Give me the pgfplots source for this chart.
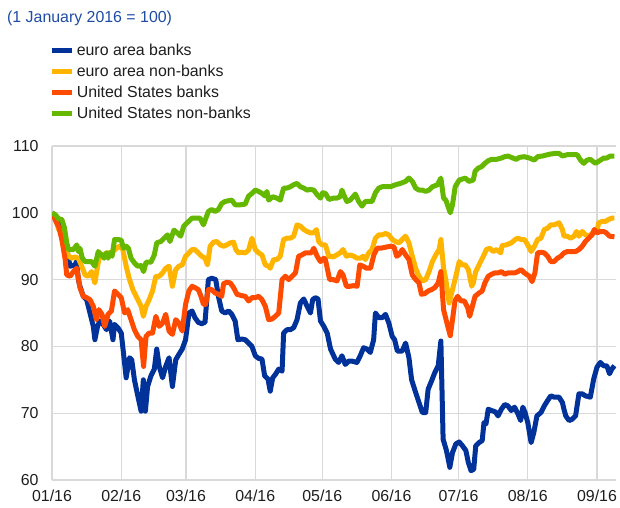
\documentclass[border=0pt]{standalone}
\usepackage{pgfplots}
\pgfplotsset{compat=1.18}
\usepackage{fontspec}
\setmainfont{Liberation Sans}
\definecolor{ecbblue}{RGB}{0,50,153}
\definecolor{ecbyellow}{RGB}{255,180,0}
\definecolor{ecborange}{RGB}{255,75,0}
\definecolor{ecbgreen}{RGB}{101,184,0}
\definecolor{titleblue}{RGB}{30,75,165}
\definecolor{gridgray}{RGB}{217,217,217}
\definecolor{txt}{RGB}{30,30,30}
\newcommand{\chartfont}{\fontsize{15.9bp}{18bp}\selectfont}
\begin{document}
\begin{tikzpicture}
\useasboundingbox (-52bp,-28bp) rectangle (568bp,480bp);
\node[anchor=west, text=titleblue, font=\chartfont, inner sep=0pt] at (-45bp,462bp) {(1 January 2016 = 100)};
\begin{axis}[
  at={(0,0)}, anchor=south west,
  scale only axis, width=564bp, height=334bp,
  xmin=0, xmax=252.5, ymin=60, ymax=110,
  xtick={0,31,60,91,121,152,182,213,244},
  xticklabels={01/16,02/16,03/16,04/16,05/16,06/16,07/16,08/16,09/16},
  ytick={60,70,80,90,100,110},
  grid=major, grid style={gridgray, line width=1.2bp},
  axis line style={draw=none},
  major tick length=0pt,
  tick label style={font=\chartfont, text=txt},
  yticklabel style={xshift=-10bp},
  xticklabel style={yshift=-6bp},
  /pgf/number format/assume math mode=true,
  legend style={font=\chartfont, text=txt, draw=none, fill=none, row sep=4bp,
    at={(axis description cs:-0.01,1.318)}, anchor=north west},
  legend cell align=left,
  legend image code/.code={\path (0bp,0bp) -- (20bp,0bp);\draw[#1, line width=5.5bp] (0bp,0bp) -- (17bp,0bp);},
  every axis plot/.append style={line width=5bp, line join=round, no marks},
]
\addplot[ecbblue] coordinates {
(0,100)(3,99)(5.2,98)(6.6,94.5)(8.1,92)(10.3,92.2)(11,92.7)(11.8,90)(12.5,89)(14,87.5)(15.5,87)(17,85)(18.5,83)(19.2,81)(20.4,83)(21.4,83.8)(22.9,83.3)(24.4,82.5)(25.8,83.8)(27.3,81)(28,83.3)(29.5,82.8)(31,82)(32,79)(33.2,75.3)(34.7,78.3)(35.7,78)(36.9,75)(38.4,72.6)(39.9,70.3)(40.9,75)(41.8,70.3)(42.8,74)(44.3,75.6)(45.8,76.6)(46.9,79.6)(48,77)(49.5,75.3)(50.9,77)(52.4,78.3)(53.9,74)(55.4,78)(56.8,78.8)(58.3,79.6)(59.8,81)(61.3,85)(62.7,85.3)
(64.0,84.3)(65.5,83.6)(67.0,83.4)(68.5,83.6)(70.0,90)(71.5,90.2)(73.3,90)(74.5,87.5)(76.0,85.3)(77.5,85)(79.0,85.3)(80.5,84.8)(82.0,83.8)(83.2,81)(85.0,81.1)(86.5,81)(88.0,80.5)(89.5,80)(91.0,78.6)(92.5,78.2)(94.0,78.1)(95.2,75.6)(96.7,75.1)(97.7,73.3)(98.8,75.3)(100.0,75.8)(101.5,76.6)(103.0,76.3)(103.7,82)(105.2,82.5)(106.7,82.5)(108.2,82.8)(109.7,84)(111.2,86.5)(112.7,87.1)(114.2,86)(115.7,85)(116.7,87)(117.9,87.3)(119.1,87.1)(120.2,83.8)(121.7,83)(123.2,82)(124.7,79.6)
(126.8,78.1)(128.3,77.6)(129.8,78.6)(131.3,77.3)(132.8,77.8)(134.3,77.8)(136.5,77.6)(138.0,78.6)(139.5,79.8)(141.0,79.6)(142.5,79.1)(144.0,81)(144.8,85)(146.3,84.3)(147.8,84.3)(149.3,84.8)(150.8,83.5)(152.3,81.5)(153.4,81)(154.6,79.3)(156.8,79.3)(158.3,80.5)(159.8,78.3)(161.0,75)(162.8,73.1)(164.3,71.6)(165.8,70.1)(167.3,70.1)(168.4,73.6)(169.9,74.8)(171.4,76.1)(172.9,77.1)(174.1,80.8)(175.1,66.1)(176.6,64.4)(178.1,61.9)(179.3,64.1)(180.8,65.4)(182.3,65.7)(183.8,65.1)(185.3,64.4)(186.4,62.6)(187.6,61.4)(188.8,61.6)
(189.7,65.1)(191.2,65.6)(192.6,65.9)(193.4,68.6)(194.3,68.4)(195.3,70.6)(196.8,70.4)(198.5,70.2)(199.7,69.6)(201.2,70.6)(202.7,71.3)(204.1,71.1)(205.6,70.4)(207.1,70.9)(208.6,69.9)(209.8,68.9)(210.8,70.9)(211.8,70.1)(213.0,68.6)(214.5,65.6)(215.7,67.1)(217.1,69.6)(218.9,70.1)(220.4,71.1)(221.9,71.9)(223.3,72.6)(224.8,72.4)(227.0,72.4)(228.5,71.6)(229.2,70.6)(230.0,69.6)(231.5,68.9)(232.9,69.1)(234.4,69.6)(235.9,72.9)(237.4,72.9)(238.8,72.6)(241.0,72.4)(242.5,75.1)(244.0,76.9)(245.5,77.6)(247.0,77.1)(248.4,77.1)(249.6,75.9)(250.6,76.6)(251.8,77.1)
};
\addlegendentry{euro area banks}
\addplot[ecbyellow] coordinates {
(0,100)(1.5,99.2)(3.0,97.5)(4.4,97.2)(5.9,95)(7.4,93.5)(8.9,93.2)(10.3,93.4)(11.8,93.2)(13.3,92)(14.8,90.7)(16.2,90.5)(17.7,91.2)(19.2,89.5)(20.4,92)(21.4,93.7)(22.9,93.7)(24.4,94)(25.8,94)(27.3,94.2)(28.8,94.7)(30.3,95)(31.7,94.5)(33.2,92)(34.7,90)(36.2,88.5)(38.4,87)(39.9,86)(40.9,84.5)(42.1,86)(43.5,87)(45.0,88.3)(46.5,90.5)(48.0,90.5)(49.5,91)(50.9,91.7)(52.4,92)(53.9,89)(55.4,91.5)(56.8,92)(58.3,92.2)(59.8,93.5)(61.3,94)(62.7,94.5)
(64.0,94.5)(65.5,94)(67.0,93.5)(68.5,93.2)(69.6,92.2)(70.8,95)(72.3,95.6)(73.8,95.7)(75.3,95.2)(76.8,95)(78.3,95.2)(79.8,95.5)(81.3,95.6)(82.3,94.5)(83.5,94)(85.0,94.1)(86.5,94)(88.0,94.4)(89.5,96.2)(91.0,94.5)(92.5,94)(94.0,93.7)(95.5,92.2)(97.0,92)(97.7,91.7)(99.2,93)(100.7,93)(102.2,93.5)(103.7,96)(105.2,96.2)(106.7,96.2)(108.2,96.5)(109.7,98.2)(111.2,98)(112.7,97.5)(114.2,97.2)(115.7,97)(117.2,97)(118.4,97.5)(119.4,95.7)(120.9,95.2)(122.4,95.2)(123.9,93.5)
(126.0,93.4)(127.5,93.7)(129.0,94)(130.3,94.5)(131.8,93.5)(133.3,93.7)(135.1,93.5)(136.6,93.2)(138.1,93.2)(139.3,93.5)(140.3,93)(141.8,94)(143.3,94.5)(144.8,96.2)(146.3,96.7)(147.8,96.7)(149.3,96.9)(150.8,96.7)(152.3,96)(153.8,95.7)(155.3,95.5)(156.8,96)(158.3,96.5)(159.8,95.5)(161.3,93.5)(162.8,91.7)(164.3,90.5)(165.8,89.8)(167.3,90)(168.8,91.2)(170.3,92.7)(171.8,93.7)(173.3,94.5)(174.1,96)(175.3,91.7)(176.3,90)(177.8,86.5)(179.3,88.5)(180.8,90.5)(182.3,92.7)(183.8,92.2)
(185.0,92.2)(186.4,91.5)(187.9,89)(188.6,89.5)(189.7,91.2)(191.6,92.5)(193.1,93.5)(194.5,94.5)(196.0,94.7)(197.5,94.2)(199.0,94.5)(200.9,94)(201.5,95.1)(203.4,95.2)(205.6,95.5)(207.4,96)(208.6,96.2)(210.0,96)(211.5,96)(213.0,95.2)(214.5,94.2)(216.0,95)(217.4,96)(218.9,96.2)(220.4,97.5)(221.9,97.7)(223.3,98.2)(224.8,98.2)(227.0,98.5)(228.5,97.5)(229.2,96.5)(230.7,96.5)(232.2,96.2)(233.7,96.5)(234.8,97.2)(235.9,96.5)(237.4,97.2)(238.8,96.7)(240.3,96.5)(242.2,97)(244.0,97.2)(244.7,98.5)(246.2,98.7)(247.7,98.7)(249.2,99)(250.6,99.2)(251.8,99.2)
};
\addlegendentry{euro area non-banks}
\addplot[ecborange] coordinates {
(0,100)(1.5,98.9)(3.0,97.9)(4.4,96)(5.9,93)(6.6,90.7)(8.1,90.5)(9.6,91.2)(11.1,91.7)(12.5,88.8)(14.0,87.5)(15.5,87.3)(17.0,87)(18.5,86)(19.9,84)(21.0,85.5)(22.4,84.8)(23.6,83)(25.1,84.8)(26.6,85.3)(28.0,88.3)(29.5,87.8)(31.0,87.3)(32.5,85)(33.9,85.5)(35.4,84)(36.9,82.5)(38.4,81.5)(39.9,81)(41.0,77)(42.1,81.5)(43.5,82)(45.0,82)(46.5,84.5)(48.0,83)(49.5,83.5)(50.9,84.8)(52.4,82.3)(53.9,81.8)(55.4,84)(56.8,83.5)(58.3,82.3)(59.8,86.3)(61.3,88.3)(62.7,89)
(64.0,88.8)(65.5,88.5)(66.7,87.5)(67.8,86.3)(68.8,86.3)(70.0,88.5)(71.5,88.5)(73.0,88)(74.5,87.8)(76.0,87.5)(76.8,89.4)(78.3,89.6)(79.8,89.5)(81.3,88.8)(82.8,87.8)(85.0,87.6)(86.5,87.5)(88.0,86.8)(89.5,87.3)(91.0,87.3)(92.5,87.5)(94.0,87)(95.5,86)(97.0,84)(98.5,84.1)(100.0,84.5)(101.5,85)(103.0,90)(104.5,90.5)(106.0,90)(107.5,90.5)(109.0,91)(110.4,93.5)(111.9,93.7)(113.4,94)(114.9,94)(116.1,94)(117.2,94.7)(118.7,93.5)(120.2,92.7)(121.7,93.2)(122.4,93)
(124.3,90)(125.8,90)(127.6,89.8)(129.1,91.2)(130.3,90.7)(131.8,89)(133.3,89)(135.1,89.1)(136.6,89)(137.8,92.2)(139.3,92)(140.8,91.7)(142.6,91.7)(144.1,93.7)(145.6,94.7)(147.1,94.7)(148.6,94.8)(150.1,94.9)(151.6,95)(153.1,94.9)(154.3,93.5)(155.3,93.7)(156.8,94.5)(158.3,93.7)(159.8,93)(161.3,90.7)(162.8,90)(164.3,89.5)(165.4,87.8)(166.9,87.9)(168.4,88.3)(169.9,88.5)(171.4,88.8)(172.9,89.5)(174.1,91.2)(175.3,85.5)(176.8,83.5)(178.3,81.6)(179.3,84)(180.4,86.8)(181.6,87.5)(183.1,86.8)(184.6,86.8)
(186.1,85.8)(187.0,84.5)(188.2,86)(189.4,87.5)(191.2,88)(192.6,88.3)(193.8,89.5)(195.3,90.5)(196.8,90.8)(198.2,91)(199.7,91)(201.2,91.2)(202.7,90.8)(204.1,91)(205.6,91)(207.1,91)(208.6,91.2)(210.0,91.5)(211.5,91)(213.7,90.5)(214.9,89.7)(216.2,91)(217.4,94)(218.9,94.1)(220.4,94)(221.9,93.5)(223.3,92.7)(224.8,92.7)(226.3,93.2)(227.8,93.5)(229.2,94)(230.7,94.2)(232.2,94.2)(234.4,94.2)(235.9,94.5)(237.4,95)(238.8,95.7)(240.3,96.2)(241.8,96.7)(242.8,97.5)(244.0,97)(245.5,97.2)(247.0,97.2)(248.1,97)(249.6,96.5)(251.8,96.4)
};
\addlegendentry{United States banks}
\addplot[ecbgreen] coordinates {
(0,100)(1.5,99.7)(3.0,99.1)(4.4,99)(5.6,97.7)(6.6,95.5)(7.4,94.5)(9.6,94.5)(11.1,95.2)(11.8,94.2)(12.5,94.7)(13.6,93.2)(14.8,92.7)(16.2,92.7)(17.7,92.7)(19.2,92)(20.7,94.2)(22.1,93.7)(23.3,93.2)(24.4,94)(25.1,93.2)(25.8,94)(26.9,93.5)(28.0,96)(29.5,96)(31.0,95.9)(32.0,94.7)(33.2,95)(34.2,94.7)(35.4,93.2)(36.9,92.5)(38.4,92)(39.9,92.1)(41.0,91.2)(42.1,92.6)(44.3,92.6)(45.8,93.7)(46.9,95.5)(48.7,95.7)(50.2,96.2)(51.7,96.7)(52.8,95.7)(54.6,97.4)(56.1,97)(57.6,96.5)(59.0,98)(60.5,98.5)(62.7,99.2)
(64.8,99.2)(66.3,99.2)(67.8,98.2)(70.0,100.2)(71.5,100.5)(73.0,100.2)(74.5,100.5)(76.0,101.4)(77.5,101.7)(79.0,101.8)(80.5,101.9)(82.0,101.2)(84.3,101.2)(86.5,101.3)(88.0,102.5)(89.5,102.9)(91.0,103.4)(92.5,103.2)(94.0,102.9)(95.5,102.5)(96.2,103.2)(97.0,101.9)(98.8,102.4)(100.7,102.2)(102.2,101.9)(103.7,103.7)(105.2,103.7)(106.7,103.9)(108.2,104.2)(109.7,104.4)(111.2,103.9)(112.7,103.7)(114.2,103.4)(115.7,103.5)(117.2,103.4)(118.7,102.7)(120.2,102.2)(121.2,103)(122.4,102.9)(124.0,102.0)
(126.0,102.2)(127.5,102.2)(129.0,102.4)(129.8,103.4)(131.0,102.4)(132.0,101.7)(133.5,101.9)(135.8,102.8)(137.3,101.7)(138.8,101)(140.3,101.7)(141.8,101.7)(143.3,101.7)(144.8,103)(146.3,103.7)(147.8,103.9)(150.0,103.9)(151.5,103.9)(153.8,104.2)(156.0,104.4)(158.3,104.7)(159.8,105.2)(161.3,104.7)(162.8,103.7)(164.3,103.4)(165.8,103.4)(167.3,103.2)(168.8,103.4)(170.3,103.9)(172.6,104.2)(174.1,105.2)(175.3,102.2)(176.3,101.9)(178.3,100)(179.3,101.2)(180.5,103.9)(182.3,104.9)
(185.0,105.2)(186.7,104.7)(188.6,104.9)(189.4,106.2)(190.9,106.7)(192.3,106.9)(193.8,107.4)(195.3,107.8)(196.8,108)(199.0,108)(201.2,108.2)(202.7,108.4)(204.1,108.5)(205.6,108.3)(207.8,108)(209.3,108.3)(211.5,108.4)(213.7,108.2)(215.9,107.9)(217.4,108.4)(219.6,108.5)(221.9,108.7)(223.3,108.8)(225.5,108.9)(227.0,108.9)(228.5,108.5)(230.7,108.7)(232.9,108.7)(235.1,108.7)(236.6,107.9)(238.1,107.4)(239.6,107.9)(241.0,108)(243.3,107.4)(244.7,107.7)(247.0,108.2)(248.4,108.2)(249.9,108.5)(251.8,108.5)
};
\addlegendentry{United States non-banks}
\end{axis}
\end{tikzpicture}
\end{document}
